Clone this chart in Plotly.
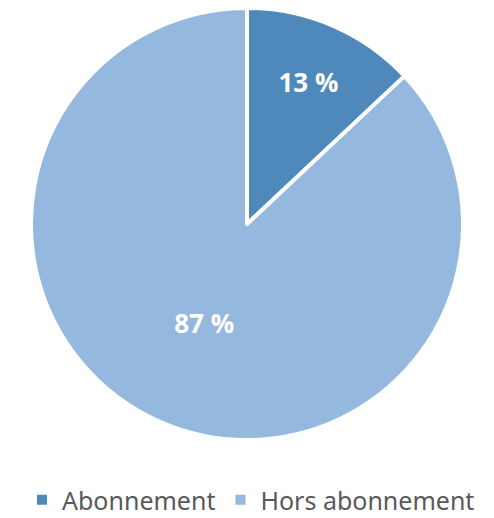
import plotly.graph_objects as go

labels = ["Abonnement", "Hors abonnement"]
values = [13, 87]
colors = ["#4f88bb", "#95b8df"]

W, H = 486, 510  # page body has an 8px margin inside the 494x518 window

fig = go.Figure(go.Pie(
    labels=labels,
    values=values,
    sort=False,
    direction="clockwise",
    rotation=0,
    marker=dict(colors=colors, line=dict(color="white", width=4)),
    texttemplate="%{value} %",
    textposition="inside",
    insidetextorientation="horizontal",
    textfont=dict(family="Open Sans", size=26, color="white", weight="bold"),
    hoverinfo="label+value",
    domain=dict(x=[23/W, 455/W], y=[1-432/H, 1.0]),
))

fig.update_layout(
    width=W, height=H,
    margin=dict(l=0, r=0, t=0, b=0, autoexpand=False),
    paper_bgcolor="white",
    showlegend=True,
    legend=dict(orientation="h", x=0.5, xanchor="center", y=1-492/H, yanchor="middle",
                font=dict(family="Noto Sans", size=25, color="#595959"),
                traceorder="normal", itemsizing="constant"),
)

fig.write_html("out.html")
